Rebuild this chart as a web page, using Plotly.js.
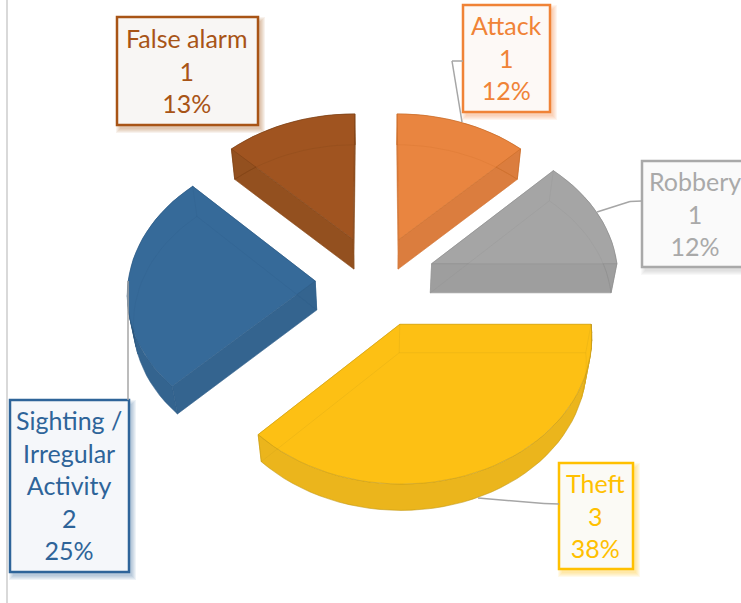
<!DOCTYPE html>
<html><head><meta charset="utf-8">
<script src="https://cdn.plot.ly/plotly-3.0.1.min.js"></script>
<style>html,body{margin:0;padding:0;background:#fff}#c{width:741px;height:603px}</style></head>
<body><div id="c"></div>
<script>
// ---- data ----
const categories = ['Attack','Robbery','Theft','Sighting /<br>Irregular<br>Activity','False alarm'];
const seriesValues = [1,1,3,2,1];
const percentLabels = ['12%','12%','38%','25%','13%'];

// ---- styles ----
const topColors  = ['#E98540','#A5A5A5','#FDC014','#366A99','#A05420'];
const sideColors = ['#DB7D3E','#9E9E9E','#EBB51C','#34648F','#93501F'];
const edgeColors = ['#C66A25','#8C8C8C','#C49A1A','#2F5C86','#7A4015'];
const textColors = ['#F08337','#A9A9A9','#FFC000','#2E6499','#A85416'];
const boxFills   = ['#FDF9F6','#FAFAFA','#FBFAF5','#F5F7FA','#F8F6F4'];

// ---- 3D pie projection (screen placement of the tilted disc) ----
const view = {cx:376, cy:281, rx:187, ry:141, persp:0.0748, depth:29, shrinkX:0.025, shrinkY:0.012, pull:0.325};
function project(u,v,z){
  const wx = 1 + view.persp*v + view.shrinkX*z;
  const wy = 1 + view.persp*v + view.shrinkY*z;
  return [view.cx + view.rx*u/wx, view.cy + view.depth*z - view.ry*v/wy];
}

// ---- label box placement [x0,y0,x1,y1] ----
const boxes = [[463,5,550,112],[642,161,749,267],[559,463,633,569],[10,400,129,572],[117,17,258,125]];
const leaders = [
  [[463,61],[452,61],[462,122]],
  [[642,201],[630,201.5],[597,212]],
  [[559,504],[544,503.5],[478,498]],
  [[128,400],[128,281]],
  []
];

function shade(hex,f){
  const n=parseInt(hex.slice(1),16);
  return 'rgb('+[(n>>16)&255,(n>>8)&255,n&255].map(c=>Math.round(c*f)).join(',')+')';
}
function rgba(hex,a){
  const n=parseInt(hex.slice(1),16);
  return 'rgba('+[(n>>16)&255,(n>>8)&255,n&255].join(',')+','+a+')';
}
function poly(pts,fill,line,width,name){
  return {type:'scatter',mode:'lines',x:pts.map(p=>p[0]),y:pts.map(p=>p[1]),
    fill:fill?'toself':'none',fillcolor:fill||undefined,
    line:{color:line||'rgba(0,0,0,0)',width:width||0},hoverinfo:'skip',showlegend:false,name:name};
}

const total = seriesValues.reduce((a,b)=>a+b,0);
const traces = [];
let cum = 0;
seriesValues.forEach((val,i)=>{
  const a0 = cum/total*2*Math.PI; cum += val;
  const a1 = cum/total*2*Math.PI;
  const mid = (a0+a1)/2;
  const u0 = view.pull*Math.sin(mid), v0 = view.pull*Math.cos(mid);
  const rim = a=>[u0+Math.sin(a), v0+Math.cos(a)];
  const n = Math.max(8,Math.round((a1-a0)/(Math.PI/60)));
  const angles = Array.from({length:n+1},(_,k)=>a0+(a1-a0)*k/n);
  const at = (uv,z)=>project(uv[0],uv[1],z);
  const apex=[u0,v0];
  const outline = z=>[at(apex,z)].concat(angles.map(a=>at(rim(a),z))).concat([at(apex,z)]);
  const name = categories[i].replace(/<br>/g,' ');
  // cut faces
  [a0,a1].forEach(a=>{
    const r=rim(a);
    traces.push(poly([at(apex,0),at(r,0),at(r,1),at(apex,1),at(apex,0)],sideColors[i],sideColors[i],0.5,name));
  });
  // outer curved wall: a base band, then darker strips where it turns away from the viewer
  const band = angles.map(a=>at(rim(a),0)).concat(angles.slice().reverse().map(a=>at(rim(a),1)));
  traces.push(poly(band.concat([band[0]]),sideColors[i],rgba(edgeColors[i],0.6),0.8,name));
  for(let k=0;k<n;k++){
    const a=angles[k], b=angles[k+1], m=(a+b)/2, facing=-Math.cos(m);
    if(facing<=-0.02 || facing>=0.32) continue;
    const f=0.62+0.38*Math.max(0,facing)*3.2;
    const col=shade(sideColors[i],f);
    traces.push(poly([at(rim(a),0),at(rim(b),0),at(rim(b),1),at(rim(a),1),at(rim(a),0)],col,col,0.6,name));
  }
  // top face
  traces.push(poly(outline(0),topColors[i],rgba(edgeColors[i],0.55),1,name));
  // faint see-through lines of the lower face
  traces.push(poly(outline(1),null,rgba(edgeColors[i],0.2),1,name));
  [apex,rim(a0),rim(a1)].forEach(p=>traces.push(poly([at(p,0),at(p,1)],null,rgba(edgeColors[i],0.2),1,name)));
});

const shapes = [{type:'line',xref:'x',yref:'y',x0:7,x1:7,y0:0,y1:603,line:{color:'#D9D9D9',width:2},layer:'below'}];
const annotations = [];
boxes.forEach((b,i)=>{
  for(let s=0;s<5;s++){
    const g=4-s;
    shapes.push({type:'rect',xref:'x',yref:'y',x0:b[0]+3-g,y0:b[1]+4-g,x1:b[2]+3+g,y1:b[3]+4+g,
      fillcolor:rgba(textColors[i],0.08),line:{width:0},layer:'below'});
  }
  shapes.push({type:'rect',xref:'x',yref:'y',x0:b[0],y0:b[1],x1:b[2],y1:b[3],
    fillcolor:boxFills[i],line:{color:textColors[i],width:2.5},layer:'above'});
  annotations.push({xref:'x',yref:'y',x:(b[0]+b[2])/2-0.5,y:(b[1]+b[3])/2-1,xanchor:'center',yanchor:'middle',
    showarrow:false,align:'center',
    text:categories[i]+'<br>'+seriesValues[i]+'<br>'+percentLabels[i],
    font:{family:'Lato, Carlito, sans-serif',size:25,color:textColors[i]}});
  const L=leaders[i];
  for(let k=0;k+1<L.length;k++){
    shapes.push({type:'line',xref:'x',yref:'y',x0:L[k][0],y0:L[k][1],x1:L[k+1][0],y1:L[k+1][1],
      line:{color:'#A6A6A6',width:1.5},layer:'above'});
  }
});

Plotly.newPlot('c',traces,{
  width:741,height:603,margin:{l:0,r:0,t:0,b:0},
  paper_bgcolor:'#fff',plot_bgcolor:'#fff',showlegend:false,hovermode:false,
  xaxis:{range:[0,741],visible:false,fixedrange:true},
  yaxis:{range:[603,0],visible:false,fixedrange:true},
  shapes,annotations
},{displayModeBar:false,staticPlot:true});
</script></body></html>
